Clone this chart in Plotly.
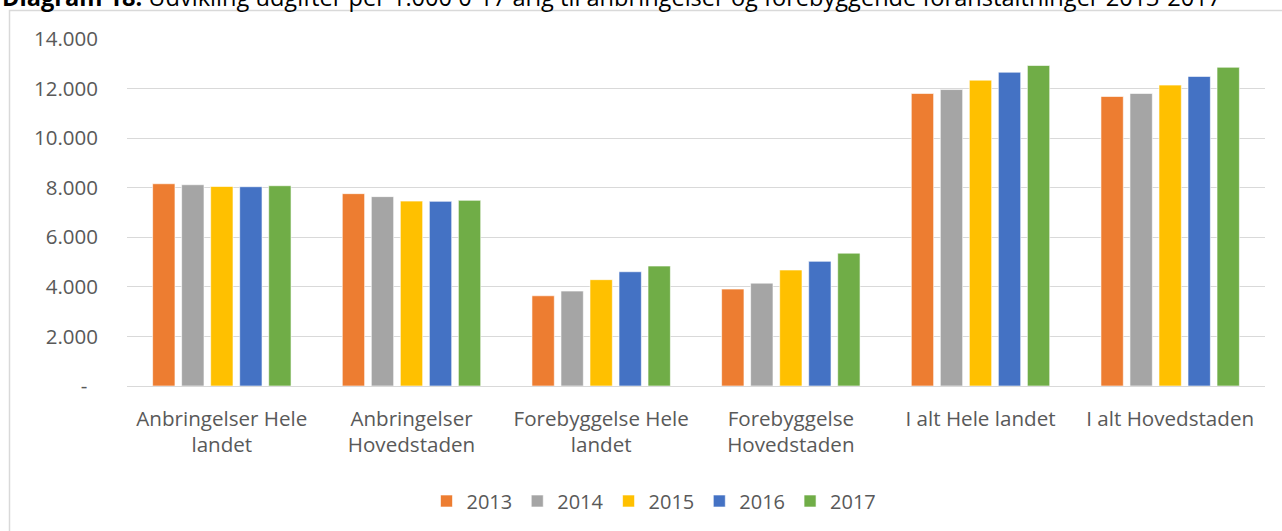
import plotly.graph_objects as go

categories = [
    "Anbringelser Hele<br>landet",
    "Anbringelser<br>Hovedstaden",
    "Forebyggelse Hele<br>landet",
    "Forebyggelse<br>Hovedstaden",
    "I alt Hele landet",
    "I alt Hovedstaden",
]
years = ["2013", "2014", "2015", "2016", "2017"]
values_2013 = [8160, 7760, 3640, 3910, 11800, 11680]
values_2014 = [8120, 7640, 3830, 4150, 11960, 11800]
values_2015 = [8050, 7460, 4290, 4680, 12340, 12140]
values_2016 = [8040, 7450, 4610, 5030, 12660, 12490]
values_2017 = [8080, 7490, 4840, 5360, 12930, 12860]
series = [values_2013, values_2014, values_2015, values_2016, values_2017]
colors = ["#ED7D31", "#A5A5A5", "#FFC000", "#4472C4", "#70AD47"]

tick_values = [0, 2000, 4000, 6000, 8000, 10000, 12000, 14000]
tick_labels = ["-\u00a0\u00a0", "2.000", "4.000", "6.000", "8.000", "10.000", "12.000", "14.000"]

title_text = ("<b>Diagram 18:</b> Udvikling udgifter per 1.000 0-17 årig til anbringelser "
              "og forebyggende foranstaltninger 2013-2017")

FONT = "Open Sans"
TXT = "#595959"

fig = go.Figure()
for yr, vals, col in zip(years, series, colors):
    fig.add_trace(go.Bar(
        x=categories, y=vals, name=yr,
        marker=dict(color=col, line=dict(color="rgba(255,255,255,0.6)", width=1)),
    ))

W, H = 1282, 531
L, R, T, B = 127, 17, 39, 144
pw = W - L - R
ph = H - T - B

def px_x(x):
    return (x - L) / pw

def px_y(y):
    return (H - B - y) / ph

fig.update_layout(
    width=W, height=H,
    margin=dict(l=L, r=R, t=T, b=B, pad=0),
    paper_bgcolor="white", plot_bgcolor="white",
    barmode="group", bargap=0.235, bargroupgap=0.23,
    font=dict(family=FONT, size=20, color=TXT),
    showlegend=True,
    legend=dict(
        orientation="h", x=px_x(654), xanchor="center",
        y=px_y(501), yanchor="middle",
        font=dict(family=FONT, size=20, color=TXT),
        itemwidth=30, traceorder="normal",
    ),
    xaxis=dict(
        showgrid=False, showline=False, ticks="", zeroline=False,
        ticklabelstandoff=18,
        tickfont=dict(family=FONT, size=20.6, color=TXT),
    ),
    yaxis=dict(
        range=[0, 14000], tickvals=tick_values, ticktext=tick_labels,
        showgrid=True, gridcolor="#D9D9D9", gridwidth=1.3,
        zeroline=True, zerolinecolor="#D9D9D9", zerolinewidth=1.3,
        showline=False, ticks="",
        ticklabelstandoff=28,
        tickfont=dict(family=FONT, size=20.5, color=TXT),
    ),
    shapes=[dict(
        type="rect", xref="paper", yref="paper",
        x0=px_x(9.5), x1=px_x(1300), y0=px_y(560), y1=px_y(10.5),
        line=dict(color="#D9D9D9", width=1.5), fillcolor="rgba(0,0,0,0)",
        layer="below",
    )],
    annotations=[dict(
        text=title_text, xref="paper", yref="paper",
        x=px_x(0), xanchor="left", y=px_y(14.5), yanchor="bottom",
        showarrow=False, font=dict(family=FONT, size=23.6, color="black"),
    )],
)

fig.write_html("out.html", config={"displayModeBar": False},
               post_script="document.body.style.margin='0';document.body.style.overflow='hidden';")
